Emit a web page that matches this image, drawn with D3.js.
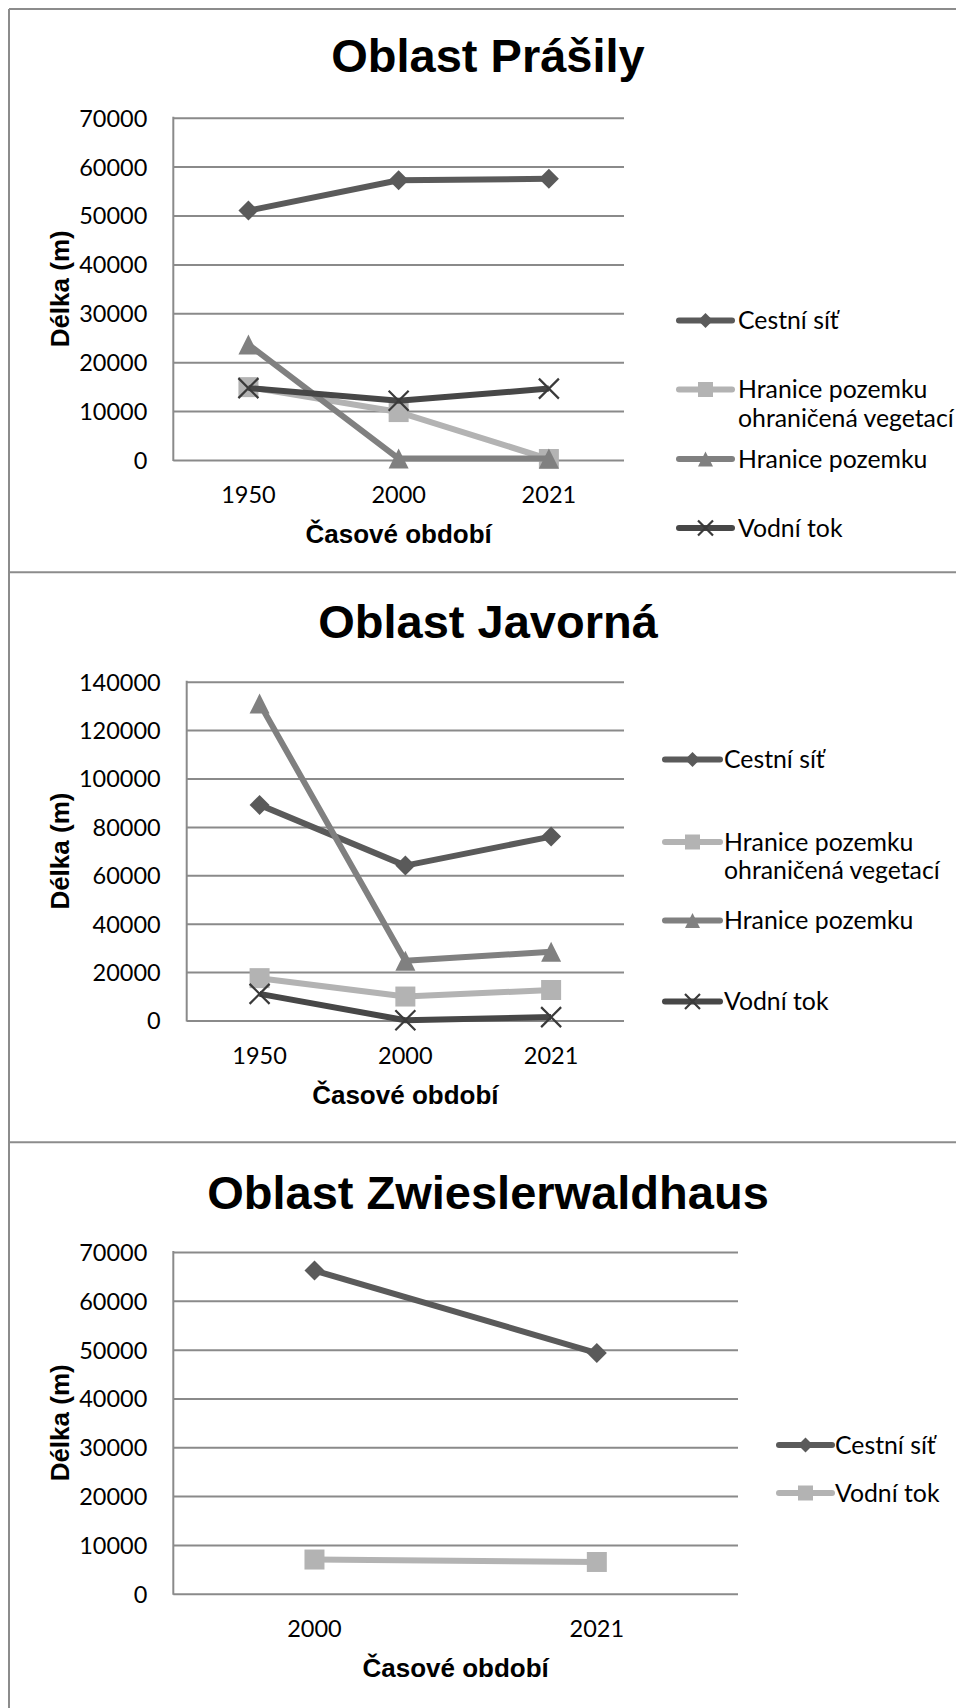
<!DOCTYPE html>
<html><head><meta charset="utf-8">
<script src="https://cdn.jsdelivr.net/npm/d3@7"></script>
<style>body{margin:0;background:#fff}svg{display:block}</style>
</head><body><svg id="c" width="956" height="1708"></svg>
<script>
// ---------------- data ----------------
const seriesNames = ["Cestní síť", "Hranice pozemku ohraničená vegetací", "Hranice pozemku", "Vodní tok"];

const prasilyYears = ["1950", "2000", "2021"];
const prasilyCestniSit = [51000, 57200, 57500];
const prasilyHraniceVegetace = [14900, 9800, 200];
const prasilyHranice = [23600, 300, 300];
const prasilyVodniTok = [14700, 12100, 14600];
const prasilyTicks = [0, 10000, 20000, 30000, 40000, 50000, 60000, 70000];

const javornaYears = ["1950", "2000", "2021"];
const javornaCestniSit = [89100, 64000, 76000];
const javornaHraniceVegetace = [17500, 9900, 12600];
const javornaHranice = [131000, 24700, 28400];
const javornaVodniTok = [11000, 100, 1400];
const javornaTicks = [0, 20000, 40000, 60000, 80000, 100000, 120000, 140000];

const zwieslYears = ["2000", "2021"];
const zwieslCestniSit = [66200, 49300];
const zwieslVodniTok = [7000, 6500];
const zwieslTicks = [0, 10000, 20000, 30000, 40000, 50000, 60000, 70000];

const xTitle = "Časové období";
const yTitle = "Délka (m)";

// ---------------- styles ----------------
const STY = {
  diamond:  { line: "#5a5a5a", fill: "#5a5a5a", type: "diamond" },
  square:   { line: "#b3b3b3", fill: "#b3b3b3", type: "square" },
  triangle: { line: "#808080", fill: "#808080", type: "triangle" },
  cross:    { line: "#474747", fill: "#3a3a3a", type: "cross" }
};
const GRID = "#8a8a8a";
const FONT_C = "Lato, Carlito, 'Open Sans', sans-serif";
const FONT_A = "'Liberation Sans', Arial, sans-serif";
const TICK_FS = 23.5;
const LEG_FS = 24.8;

const panels = [
  {
    title: "Oblast Prášily", cats: prasilyYears, ticks: prasilyTicks, max: 70000,
    series: [
      { name: seriesNames[0], values: prasilyCestniSit, s: "diamond" },
      { name: seriesNames[1], values: prasilyHraniceVegetace, s: "square" },
      { name: seriesNames[2], values: prasilyHranice, s: "triangle" },
      { name: seriesNames[3], values: prasilyVodniTok, s: "cross" }
    ],
    L: { x0: 173.3, x1: 624, y0: 117.7, y1: 460, titleY: 72, lx0: 679, lx1: 732, ltx: 738,
         ly: [320.5, 389.5, 459, 528] }
  },
  {
    title: "Oblast Javorná", cats: javornaYears, ticks: javornaTicks, max: 140000,
    series: [
      { name: seriesNames[0], values: javornaCestniSit, s: "diamond" },
      { name: seriesNames[1], values: javornaHraniceVegetace, s: "square" },
      { name: seriesNames[2], values: javornaHranice, s: "triangle" },
      { name: seriesNames[3], values: javornaVodniTok, s: "cross" }
    ],
    L: { x0: 186.7, x1: 624, y0: 681.7, y1: 1020.5, titleY: 638, lx0: 665, lx1: 720, ltx: 724,
         ly: [759.5, 842, 920.5, 1001.5] }
  },
  {
    title: "Oblast Zwieslerwaldhaus", cats: zwieslYears, ticks: zwieslTicks, max: 70000,
    series: [
      { name: seriesNames[0], values: zwieslCestniSit, s: "diamond" },
      { name: seriesNames[3], values: zwieslVodniTok, s: "square" }
    ],
    L: { x0: 173.3, x1: 738, y0: 1252, y1: 1593.7, titleY: 1209, lx0: 779, lx1: 832, ltx: 835,
         ly: [1445, 1493] }
  }
];

// ---------------- helpers ----------------
function markerPath(type, r) {
  const p = d3.path();
  if (type === "diamond") {
    p.moveTo(0, -r); p.lineTo(r, 0); p.lineTo(0, r); p.lineTo(-r, 0); p.closePath();
  } else if (type === "square") {
    p.rect(-r, -r, 2 * r, 2 * r);
  } else if (type === "triangle") {
    p.moveTo(0, -r); p.lineTo(r, r); p.lineTo(-r, r); p.closePath();
  } else if (type === "cross") {
    p.moveTo(-r, -r); p.lineTo(r, r); p.moveTo(r, -r); p.lineTo(-r, r);
  }
  return p.toString();
}
function drawMarker(g, type, x, y, r) {
  const st = STY[type];
  const m = g.append("path").attr("d", markerPath(type, r))
    .attr("transform", `translate(${x},${y})`);
  if (type === "cross") m.attr("fill", "none").attr("stroke", st.fill).attr("stroke-width", 2.2);
  else m.attr("fill", st.fill);
}

// ---------------- draw ----------------
const svg = d3.select("#c");
svg.append("rect").attr("width", 956).attr("height", 1708).attr("fill", "#fff");

// frame
const frame = svg.append("g").attr("stroke", "#8c8c8c").attr("stroke-width", 2).attr("fill", "none");
frame.append("line").attr("x1", 9).attr("x2", 9).attr("y1", 9).attr("y2", 1708);
frame.append("line").attr("x1", 9).attr("x2", 956).attr("y1", 9).attr("y2", 9);
frame.append("line").attr("x1", 9).attr("x2", 956).attr("y1", 572.3).attr("y2", 572.3);
frame.append("line").attr("x1", 9).attr("x2", 956).attr("y1", 1142.3).attr("y2", 1142.3);

panels.forEach(P => {
  const L = P.L;
  const g = svg.append("g");
  const x = d3.scaleBand().domain(P.cats).range([L.x0, L.x1]).padding(0);
  const y = d3.scaleLinear().domain([0, P.max]).range([L.y1, L.y0]);

  // title
  g.append("text").attr("x", 488).attr("y", L.titleY).attr("text-anchor", "middle")
    .attr("font-family", FONT_A).attr("font-weight", "bold").attr("font-size", 47)
    .attr("fill", "#000").text(P.title);

  // y axis with gridlines
  const ya = g.append("g").attr("transform", `translate(${L.x0},0)`)
    .call(d3.axisLeft(y).tickValues(P.ticks).tickSize(-(L.x1 - L.x0)).tickPadding(26)
      .tickFormat(d3.format("d")));
  ya.select(".domain").remove();
  ya.selectAll(".tick line").attr("stroke", GRID).attr("stroke-width", 2);
  ya.selectAll(".tick text").attr("font-family", FONT_C).attr("font-size", TICK_FS)
    .attr("fill", "#000").attr("dy", "0.36em");
  g.append("line").attr("x1", L.x0).attr("x2", L.x0).attr("y1", L.y0 - 1).attr("y2", L.y1 + 1)
    .attr("stroke", GRID).attr("stroke-width", 2);

  // x axis
  const xa = g.append("g").attr("transform", `translate(0,${L.y1})`)
    .call(d3.axisBottom(x).tickSize(0).tickPadding(0));
  xa.select(".domain").remove();
  xa.selectAll(".tick text").attr("font-family", FONT_C).attr("font-size", TICK_FS)
    .attr("fill", "#000").attr("y", 35).attr("dy", "0.36em");

  // axis titles
  g.append("text").attr("x", (L.x0 + L.x1) / 2).attr("y", L.y1 + 74).attr("dy", "0.36em")
    .attr("text-anchor", "middle").attr("font-family", FONT_A).attr("font-weight", "bold")
    .attr("font-size", 26).text(xTitle);
  g.append("text").attr("transform", `translate(60,${(L.y0 + L.y1) / 2}) rotate(-90)`)
    .attr("dy", "0.36em").attr("text-anchor", "middle").attr("font-family", FONT_A)
    .attr("font-weight", "bold").attr("font-size", 26).text(yTitle);

  // series
  const cx = c => x(c) + x.bandwidth() / 2;
  P.series.forEach(S => {
    const st = STY[S.s];
    const pts = P.cats.map((c, i) => [cx(c), y(S.values[i])]);
    g.append("path").attr("d", d3.line()(pts)).attr("fill", "none")
      .attr("stroke", st.line).attr("stroke-width", 6).attr("stroke-linejoin", "round");
    pts.forEach(p => drawMarker(g, S.s, p[0], p[1], 10));
  });

  // legend
  P.series.forEach((S, i) => {
    const st = STY[S.s];
    const ly = L.ly[i];
    g.append("line").attr("x1", L.lx0).attr("x2", L.lx1).attr("y1", ly).attr("y2", ly)
      .attr("stroke", st.line).attr("stroke-width", 6).attr("stroke-linecap", "round");
    drawMarker(g, S.s, (L.lx0 + L.lx1) / 2, ly, 7.5);
    const t = g.append("text").attr("x", L.ltx).attr("y", ly).attr("dy", "0.36em")
      .attr("font-family", FONT_C).attr("font-size", LEG_FS).attr("fill", "#000");
    if (S.name === seriesNames[1]) {
      t.append("tspan").attr("x", L.ltx).text("Hranice pozemku");
      t.append("tspan").attr("x", L.ltx).attr("dy", 28.5).text("ohraničená vegetací");
    } else t.text(S.name);
  });
});
</script>
</body></html>
